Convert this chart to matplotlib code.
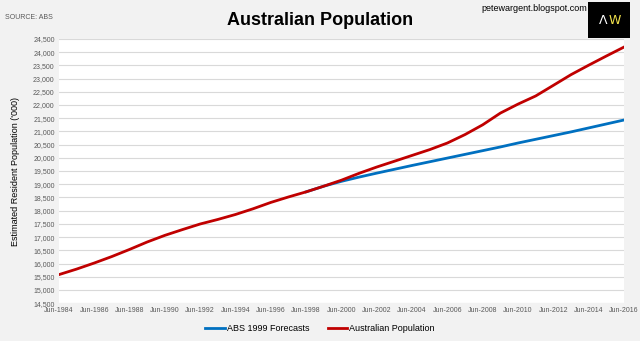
import matplotlib.pyplot as plt
from matplotlib.patches import Rectangle

# June estimated resident population ('000), 1984-2016
years = list(range(1984, 2017))
population = [15579, 15788, 16018, 16264, 16532, 16814, 17065, 17284, 17495, 17667,
              17855, 18072, 18311, 18518, 18711, 18926, 19153, 19413, 19651, 19870,
              20090, 20310, 20560, 20880, 21249, 21692, 22032, 22340, 22742, 23146,
              23504, 23851, 24190]

# ABS 1999 forecasts ('000), June values
fc_years = list(range(1998, 2017))
forecast = [18711, 18926, 19110, 19270, 19420, 19565, 19710, 19850, 19990, 20130,
            20270, 20410, 20560, 20700, 20840, 20980, 21130, 21280, 21430]

tick_years = list(range(1984, 2017, 2))
tick_labels = ["Jun-%d" % y for y in tick_years]
y_ticks = list(range(14500, 25000, 500))

BG = "#f2f2f2"
BLUE = "#0070c0"
RED = "#c00000"
FONT = ["Liberation Sans", "DejaVu Sans"]
plt.rcParams["font.family"] = FONT

fig = plt.figure(figsize=(6.4, 3.41), dpi=100, facecolor=BG)
ax = fig.add_axes([0.092, 0.111, 0.883, 0.775])
ax.set_facecolor("white")

ax.plot([y + 0.5 for y in fc_years], forecast, color=BLUE, lw=2, label="ABS 1999 Forecasts")
ax.plot([y + 0.5 for y in years], population, color=RED, lw=2, label="Australian Population")

ax.set_xlim(1984.5, 2016.5)
ax.set_ylim(14500, 24500)
ax.set_xticks([y + 0.5 for y in tick_years])
ax.set_xticklabels(tick_labels)
ax.set_yticks(y_ticks)
ax.set_yticklabels(["{:,}".format(v) for v in y_ticks])
ax.tick_params(length=0, labelsize=5, labelcolor="#595959", pad=3)
ax.grid(axis="y", color="#d9d9d9", lw=0.8)
ax.set_axisbelow(True)
for s in ax.spines.values():
    s.set_visible(False)

ax.set_ylabel("Estimated Resident Population ('000)", fontsize=6.5, labelpad=10)
ax.yaxis.set_label_coords(-0.068, 0.5)

fig.text(0.5, 0.94, "Australian Population", ha="center", va="center", fontsize=13,
         fontweight="bold")
fig.text(0.008, 0.95, "SOURCE: ABS", fontsize=5, color="#595959", va="center")
fig.text(0.835, 0.975, "petewargent.blogspot.com", ha="center", va="center", fontsize=6.5)

fig.patches.append(Rectangle((0.918, 0.89), 0.066, 0.105, transform=fig.transFigure,
                             facecolor="black", zorder=5))
fig.text(0.943, 0.94, "\u039b", color="white", fontsize=9, ha="center", va="center", zorder=6,
         family=["DejaVu Sans"])
fig.text(0.961, 0.94, "W", color="#f2e34c", fontsize=9, ha="center", va="center", zorder=6,
         family=["DejaVu Sans"])

fig.legend(loc="lower center", bbox_to_anchor=(0.5, 0.0), ncol=2, frameon=False,
           fontsize=6.5, handlelength=2.2, handletextpad=0.2, columnspacing=2)

fig.savefig("out.png", dpi=100, facecolor=BG)
